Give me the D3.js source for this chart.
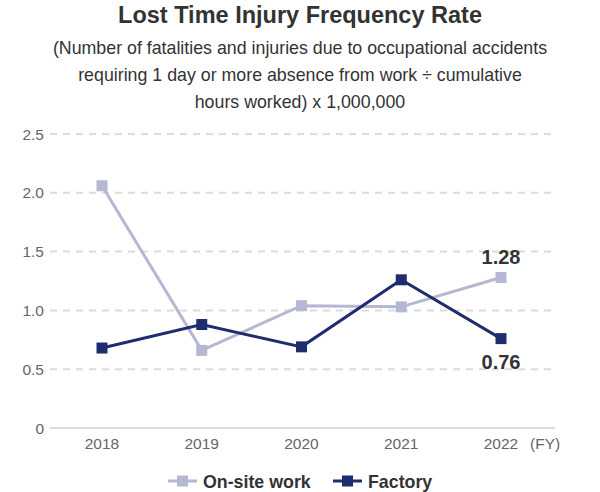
<!DOCTYPE html>
<html>
<head>
<meta charset="utf-8">
<script src="https://cdn.jsdelivr.net/npm/d3@7"></script>
<style>
body { margin: 0; background: #fff; }
svg { font-family: Arial, "Liberation Sans", sans-serif; }
</style>
</head>
<body>
<svg id="chart" width="600" height="492"></svg>
<script>
var years = ["2018", "2019", "2020", "2021", "2022"];
var onsite = [2.06, 0.66, 1.04, 1.03, 1.28];
var factory = [0.68, 0.88, 0.69, 1.26, 0.76];
var yTicks = [0, 0.5, 1.0, 1.5, 2.0, 2.5];

var onsite_color = '#b4b8d3';
var factory_color = '#1f2d6e';

var svg = d3.select("#chart");

// title + subtitle
svg.append("text").attr("x", 300).attr("y", 23).attr("text-anchor", "middle")
    .attr("font-size", 23.5).attr("font-weight", "bold").attr("fill", "#333")
    .text("Lost Time Injury Frequency Rate");
var sub = ["(Number of fatalities and injuries due to occupational accidents",
           "requiring 1 day or more absence from work ÷ cumulative",
           "hours worked) x 1,000,000"];
svg.selectAll(".sub").data(sub).enter().append("text")
    .attr("x", 300).attr("y", function(d, i) { return 54 + i * 27; })
    .attr("text-anchor", "middle").attr("font-size", 17.8).attr("fill", "#333")
    .text(function(d) { return d; });

var x = d3.scalePoint().domain(years).range([102, 501]);
var y = d3.scaleLinear().domain([0, 2.5]).range([428, 134]);

// grid
svg.selectAll(".grid").data(yTicks.filter(function(d) { return d > 0; })).enter().append("line")
    .attr("x1", 50).attr("x2", 552)
    .attr("y1", function(d) { return y(d); }).attr("y2", function(d) { return y(d); })
    .attr("stroke", "#dcdcdc").attr("stroke-width", 2).attr("stroke-dasharray", "7,6");
svg.append("line").attr("x1", 50).attr("x2", 555).attr("y1", y(0)).attr("y2", y(0))
    .attr("stroke", "#dcdcdc").attr("stroke-width", 2);

// y axis labels
svg.selectAll(".ytick").data(yTicks).enter().append("text")
    .attr("x", 44).attr("y", function(d) { return y(d) + 5.5; })
    .attr("text-anchor", "end").attr("font-size", 15.5).attr("fill", "#666")
    .text(function(d) { return d === 0 ? "0" : d3.format(".1f")(d); });

// x axis labels
svg.selectAll(".xtick").data(years).enter().append("text")
    .attr("x", function(d) { return x(d); }).attr("y", 449)
    .attr("text-anchor", "middle").attr("font-size", 15.5).attr("fill", "#666")
    .text(function(d) { return d; });
svg.append("text").attr("x", 530).attr("y", 449).attr("font-size", 15.5).attr("fill", "#666").text("(FY)");

var line = d3.line()
    .x(function(d, i) { return x(years[i]); })
    .y(function(d) { return y(d); });

function drawSeries(vals, color) {
    svg.append("path").attr("d", line(vals)).attr("fill", "none")
        .attr("stroke", color).attr("stroke-width", 3);
    svg.selectAll(null).data(vals).enter().append("rect")
        .attr("x", function(d, i) { return x(years[i]) - 5.5; })
        .attr("y", function(d) { return y(d) - 5.5; })
        .attr("width", 11).attr("height", 11).attr("fill", color);
}
drawSeries(onsite, onsite_color);
drawSeries(factory, factory_color);

// end labels
svg.append("text").attr("x", x("2022")).attr("y", y(onsite[4]) - 13)
    .attr("text-anchor", "middle").attr("font-size", 20).attr("font-weight", "bold").attr("fill", "#333")
    .text(d3.format(".2f")(onsite[4]));
svg.append("text").attr("x", x("2022")).attr("y", y(factory[4]) + 30)
    .attr("text-anchor", "middle").attr("font-size", 20).attr("font-weight", "bold").attr("fill", "#333")
    .text(d3.format(".2f")(factory[4]));

// legend
var legend = [{name: "On-site work", color: onsite_color, x: 168},
              {name: "Factory", color: factory_color, x: 333}];
var lg = svg.selectAll(".lg").data(legend).enter().append("g")
    .attr("transform", function(d) { return "translate(" + d.x + ",481)"; });
lg.append("line").attr("x1", 0).attr("x2", 29).attr("stroke", function(d) { return d.color; }).attr("stroke-width", 3);
lg.append("rect").attr("x", 9).attr("y", -5.5).attr("width", 11).attr("height", 11).attr("fill", function(d) { return d.color; });
lg.append("text").attr("x", 35).attr("y", 6.5).attr("font-size", 17.8).attr("font-weight", "bold").attr("fill", "#333")
    .text(function(d) { return d.name; });
</script>
</body>
</html>
